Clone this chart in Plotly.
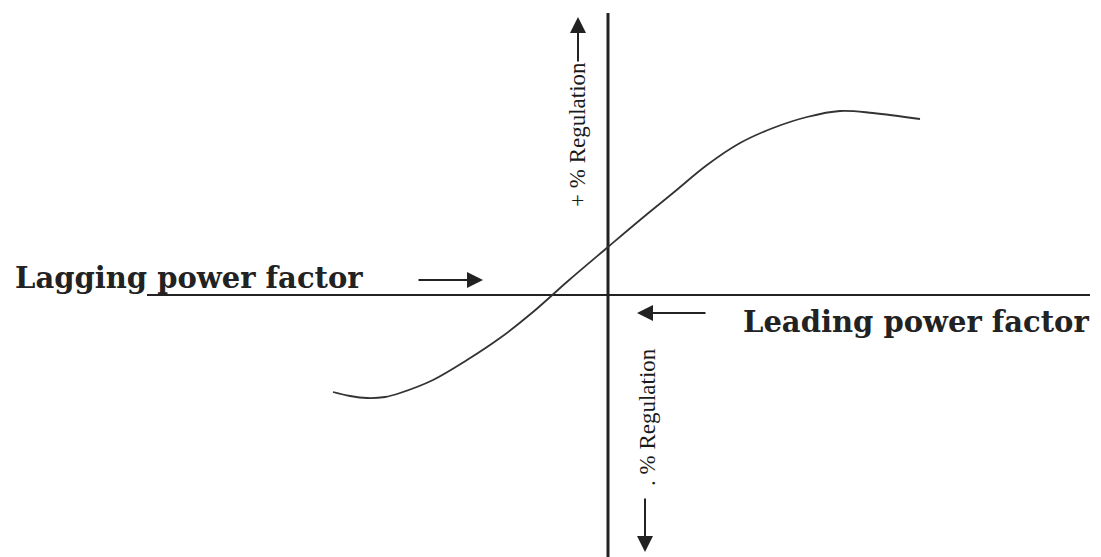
import plotly.graph_objects as go

# Regulation curve (arbitrary units; origin at axes crossing)
power_factor = [-275, -258, -241, -223, -208, -175, -141, -108, -75, -40, 0, 32, 65, 99, 132, 165, 199, 232, 265, 312]
regulation = [-97, -101, -103, -102, -98, -85, -65, -43, -17, 14, 48, 75, 102, 130, 152, 167, 178, 184, 182, 176]

# Axis extents
h_axis_x = [-461, 482]
v_axis_y = [-270, 282]

label_lag = "Lagging power factor"
label_lead = "Leading power factor"
label_pos = "+ % Regulation"
label_neg = ". % Regulation"

ink = "#222222"

fig = go.Figure()
fig.add_trace(go.Scatter(x=h_axis_x, y=[0, 0], mode="lines",
                         line=dict(color=ink, width=2), hoverinfo="skip", showlegend=False))
fig.add_trace(go.Scatter(x=[0, 0], y=v_axis_y, mode="lines",
                         line=dict(color=ink, width=3), hoverinfo="skip", showlegend=False))
fig.add_trace(go.Scatter(x=power_factor, y=regulation, mode="lines",
                         line=dict(color="#333333", width=1.8, shape="spline", smoothing=1.0),
                         hoverinfo="skip", showlegend=False))

serif_h = dict(family="DejaVu Serif", size=29, color=ink, weight="bold")
serif_v = dict(family="Liberation Serif", size=23, color="#1a1a1a")

annotations = [
    dict(x=-419, y=17, text=label_lag, showarrow=False, font=serif_h, xanchor="center", yanchor="middle"),
    dict(x=308, y=-27, text=label_lead, showarrow=False, font=serif_h, xanchor="center", yanchor="middle"),
    dict(x=-31, y=160, text=label_pos, showarrow=False, font=serif_v, textangle=-90,
         xanchor="center", yanchor="middle"),
    dict(x=39, y=-122, text=label_neg, showarrow=False, font=serif_v, textangle=-90,
         xanchor="center", yanchor="middle"),
    # arrows
    dict(x=-125, y=15, ax=-191, ay=15, xref="x", yref="y", axref="x", ayref="y",
         text="", showarrow=True, arrowhead=2, arrowsize=1.6, arrowwidth=2, arrowcolor=ink),
    dict(x=29, y=-18, ax=99, ay=-18, xref="x", yref="y", axref="x", ayref="y",
         text="", showarrow=True, arrowhead=2, arrowsize=1.6, arrowwidth=2, arrowcolor=ink),
    dict(x=-30, y=278, ax=-30, ay=232, xref="x", yref="y", axref="x", ayref="y",
         text="", showarrow=True, arrowhead=2, arrowsize=1.6, arrowwidth=2, arrowcolor=ink),
    dict(x=37, y=-257, ax=37, ay=-202, xref="x", yref="y", axref="x", ayref="y",
         text="", showarrow=True, arrowhead=2, arrowsize=1.6, arrowwidth=2, arrowcolor=ink),
]

fig.update_layout(
    width=1101, height=557,
    margin=dict(l=0, r=0, t=0, b=0),
    paper_bgcolor="white", plot_bgcolor="white",
    xaxis=dict(range=[-600, 501], visible=False, fixedrange=True),
    yaxis=dict(range=[-270, 287], visible=False, fixedrange=True),
    annotations=annotations,
    showlegend=False,
)

fig.write_html("out.html")
